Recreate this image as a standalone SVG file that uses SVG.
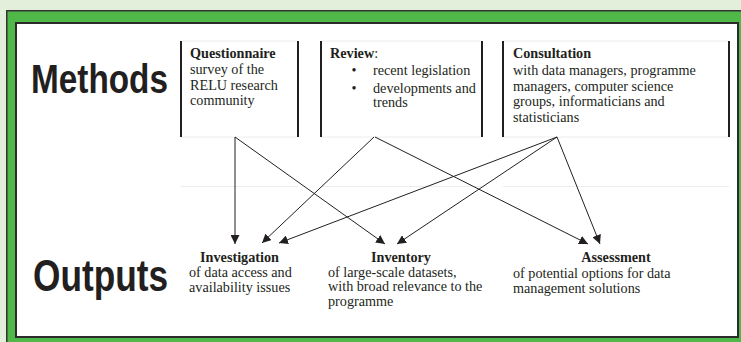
<svg xmlns="http://www.w3.org/2000/svg" width="741" height="342" viewBox="0 0 741 342">
  <style>
    .big { font-family: "Liberation Sans", Arial, sans-serif; font-weight: bold; fill: #231f20; }
    .t { font-family: "Liberation Serif", "Times New Roman", serif; font-size: 14.2px; fill: #231f20; }
    .b { font-weight: bold; }
    .bar { stroke: #231f20; stroke-width: 2; fill: none; }
    .faint { stroke: #ececec; stroke-width: 1; fill: none; }
    .arrow { stroke: #231f20; stroke-width: 1; fill: none; marker-end: url(#head); }
  </style>
  <defs>
    <marker id="head" markerUnits="userSpaceOnUse" markerWidth="10" markerHeight="9" refX="9" refY="4.5" orient="auto">
      <path d="M0,0 L9,4.5 L0,9 z" fill="#231f20"/>
    </marker>
  </defs>

  <!-- page background and framed panel -->
  <rect x="0" y="0" width="741" height="342" fill="#e3eedb"/>
  <rect x="6.75" y="10.75" width="760" height="360" fill="#50b848" stroke="#333333" stroke-width="1.5"/>
  <rect x="16" y="23" width="722" height="314" fill="#ffffff" stroke="#2b2b2b" stroke-width="2"/>

  <!-- row headings -->
  <g id="methods-label">
    <text class="big" x="31" y="93" font-size="40" textLength="137" lengthAdjust="spacingAndGlyphs">Methods</text>
  </g>
  <g id="outputs-label">
    <text class="big" x="33" y="291" font-size="44" textLength="135" lengthAdjust="spacingAndGlyphs">Outputs</text>
  </g>

  <!-- faint cell rules -->
  <g id="cell-rules">
    <line class="faint" x1="181" y1="41" x2="298" y2="41"/>
    <line class="faint" x1="181" y1="137" x2="298" y2="137"/>
    <line class="faint" x1="321" y1="41" x2="482" y2="41"/>
    <line class="faint" x1="321" y1="137" x2="482" y2="137"/>
    <line class="faint" x1="503" y1="41" x2="729" y2="41"/>
    <line class="faint" x1="503" y1="137" x2="729" y2="137"/>
    <line class="faint" x1="181" y1="186.5" x2="298" y2="186.5"/>
    <line class="faint" x1="321" y1="186.5" x2="482" y2="186.5"/>
    <line class="faint" x1="503" y1="186.5" x2="729" y2="186.5"/>
  </g>

  <!-- method nodes -->
  <g id="questionnaire">
    <line class="bar" x1="181" y1="41" x2="181" y2="137"/>
    <line class="bar" x1="298" y1="41" x2="298" y2="137"/>
    <text class="t b" x="190" y="58">Questionnaire</text>
    <text class="t" x="190" y="74">survey of the</text>
    <text class="t" x="190" y="89.5">RELU research</text>
    <text class="t" x="190" y="105">community</text>
  </g>

  <g id="review">
    <line class="bar" x1="321" y1="41" x2="321" y2="137"/>
    <line class="bar" x1="482" y1="41" x2="482" y2="137"/>
    <text class="t" x="330" y="58"><tspan class="b">Review</tspan>:</text>
    <text class="t" x="354" y="74.5" text-anchor="middle">•</text>
    <text class="t" x="373" y="74.5">recent legislation</text>
    <text class="t" x="354" y="92.5" text-anchor="middle">•</text>
    <text class="t" x="373" y="92.5">developments and</text>
    <text class="t" x="373" y="107">trends</text>
  </g>

  <g id="consultation">
    <line class="bar" x1="503" y1="41" x2="503" y2="137"/>
    <line class="bar" x1="729" y1="41" x2="729" y2="137"/>
    <text class="t b" x="513" y="58">Consultation</text>
    <text class="t" x="513" y="75">with data managers, programme</text>
    <text class="t" x="513" y="90.5">managers, computer science</text>
    <text class="t" x="513" y="106">groups, informaticians and</text>
    <text class="t" x="513" y="121.5">statisticians</text>
  </g>

  <!-- output nodes -->
  <g id="investigation">
    <text class="t b" x="239.5" y="262" text-anchor="middle">Investigation</text>
    <text class="t" x="189" y="277">of data access and</text>
    <text class="t" x="189" y="292">availability issues</text>
  </g>

  <g id="inventory">
    <text class="t b" x="401" y="262" text-anchor="middle">Inventory</text>
    <text class="t" x="328" y="276.5">of large-scale datasets,</text>
    <text class="t" x="328" y="291">with broad relevance to the</text>
    <text class="t" x="328" y="305.5">programme</text>
  </g>

  <g id="assessment">
    <text class="t b" x="616" y="262" text-anchor="middle">Assessment</text>
    <text class="t" x="513" y="278">of potential options for data</text>
    <text class="t" x="513" y="293">management solutions</text>
  </g>

  <!-- connectors -->
  <g id="connectors">
    <line class="arrow" x1="235" y1="137" x2="235" y2="244"/>
    <line class="arrow" x1="235" y1="137" x2="385" y2="244"/>
    <line class="arrow" x1="374" y1="137" x2="262" y2="243"/>
    <line class="arrow" x1="375" y1="137" x2="588" y2="244"/>
    <line class="arrow" x1="557" y1="137" x2="279" y2="243"/>
    <line class="arrow" x1="557" y1="137" x2="397" y2="244"/>
    <line class="arrow" x1="557" y1="137" x2="600" y2="244"/>
  </g>
</svg>
